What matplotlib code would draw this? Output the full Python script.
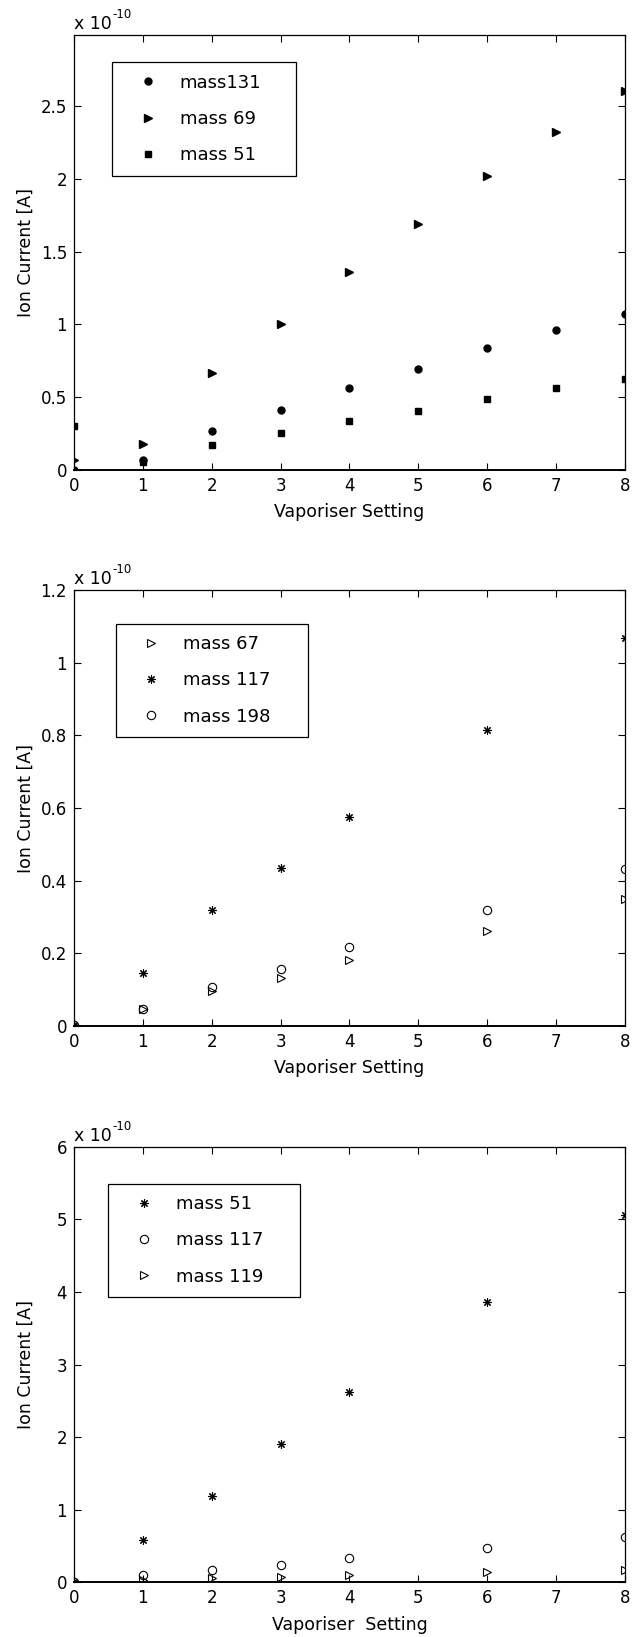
import matplotlib
matplotlib.use("Agg")
import matplotlib.pyplot as plt

plt.rcParams['font.family'] = ['DejaVu Sans']

# ---- data (ion current in units of 1e-10 A) ----
x_full = [0, 1, 2, 3, 4, 5, 6, 7, 8]
m131 = [0.0, 0.07, 0.27, 0.41, 0.56, 0.69, 0.84, 0.96, 1.07]
m69 = [0.07, 0.18, 0.665, 1.0, 1.36, 1.69, 2.02, 2.32, 2.60]
m51_a = [0.305, 0.057, 0.17, 0.255, 0.335, 0.406, 0.484, 0.56, 0.624]

x_part = [0, 1, 2, 3, 4, 6, 8]
m67 = [0.003, 0.046, 0.097, 0.131, 0.18, 0.26, 0.348]
m117_b = [0.003, 0.145, 0.318, 0.436, 0.576, 0.814, 1.068]
m198 = [0.003, 0.046, 0.108, 0.157, 0.218, 0.32, 0.433]

m51_c = [0.01, 0.586, 1.186, 1.91, 2.62, 3.86, 5.06]
m117_c = [0.01, 0.10, 0.17, 0.245, 0.33, 0.475, 0.63]
m119 = [0.01, 0.03, 0.065, 0.08, 0.10, 0.14, 0.175]

x_ticks = [0, 1, 2, 3, 4, 5, 6, 7, 8]
y_ticks_1 = [0, 0.5, 1, 1.5, 2, 2.5]
y_ticks_2 = [0, 0.2, 0.4, 0.6, 0.8, 1.0, 1.2]
y_ticks_3 = [0, 1, 2, 3, 4, 5, 6]

ASTER = (8, 2, 0)

fig = plt.figure(figsize=(6.38, 16.37), dpi=100)

panels = [
    # bottom, ylim, yticks, xlabel, legend box (x0, y_top, width)
    (0.7129, 2.99, y_ticks_1, 'Vaporiser Setting', (0.0695, 0.9364, 0.334)),
    (0.3734, 1.2, y_ticks_2, 'Vaporiser Setting', (0.0757, 0.9234, 0.3495)),
    (0.0334, 6.0, y_ticks_3, 'Vaporiser  Setting', (0.0626, 0.9156, 0.348)),
]

axes = []
for bottom, ytop, yt, xl, _ in panels:
    ax = fig.add_axes([0.1160, bottom, 0.8636, 0.2660])
    ax.set_xlim(0, 8)
    ax.set_ylim(0, ytop)
    ax.set_xticks(x_ticks)
    ax.set_yticks(yt)
    ax.set_yticklabels(['%g' % v for v in yt])
    ax.tick_params(direction='in', top=True, right=True, length=5, width=0.8,
                   labelsize=12, pad=5)
    for s in ax.spines.values():
        s.set_linewidth(0.9)
    ax.spines['bottom'].set_linewidth(1.4)
    ax.set_xlabel(xl, fontsize=12.5, labelpad=6)
    ax.set_ylabel('Ion Current [A]', fontsize=12.5)
    ax.yaxis.set_label_coords(-0.072, 0.5)
    # MATLAB-style exponent label above the y axis
    ax.annotate('x 10', xy=(0, 1), xycoords='axes fraction', xytext=(0, 6),
                textcoords='offset pixels', fontsize=12.5, ha='left', va='baseline')
    ax.annotate('-10', xy=(0, 1), xycoords='axes fraction', xytext=(38, 17),
                textcoords='offset pixels', fontsize=8.5, ha='left', va='baseline')
    axes.append(ax)

ax1, ax2, ax3 = axes

# panel 1
ax1.plot(x_full, m131, 'o', color='k', ms=5, label='mass131')
ax1.plot(x_full, m69, '>', color='k', ms=6, label='mass 69')
ax1.plot(x_full, m51_a, 's', color='k', ms=5, label='mass 51')

# panel 2
ax2.plot(x_part, m67, '>', mfc='white', mec='k', mew=0.8, ms=6, label='mass 67')
ax2.plot(x_part, m117_b, marker=ASTER, ls='none', color='k', mew=0.8, ms=6, label='mass 117')
ax2.plot(x_part, m198, 'o', mfc='none', mec='k', mew=0.8, ms=6, label='mass 198')

# panel 3
ax3.plot(x_part, m51_c, marker=ASTER, ls='none', color='k', mew=0.8, ms=6, label='mass 51')
ax3.plot(x_part, m117_c, 'o', mfc='none', mec='k', mew=0.8, ms=6, label='mass 117')
ax3.plot(x_part, m119, '>', mfc='none', mec='k', mew=0.8, ms=6, label='mass 119')

for ax, (_, _, _, _, (lx, ly, lw)) in zip(axes, panels):
    leg = ax.legend(loc='upper left', bbox_to_anchor=(lx, ly - 0.3, lw, 0.3),
                    mode='expand', borderaxespad=0, fontsize=13, frameon=True,
                    fancybox=False, edgecolor='k', framealpha=1,
                    borderpad=0.64, labelspacing=1.01, handlelength=2.64,
                    handletextpad=0.46, numpoints=1)
    leg.get_frame().set_linewidth(0.9)

fig.savefig('out.png', dpi=100)
